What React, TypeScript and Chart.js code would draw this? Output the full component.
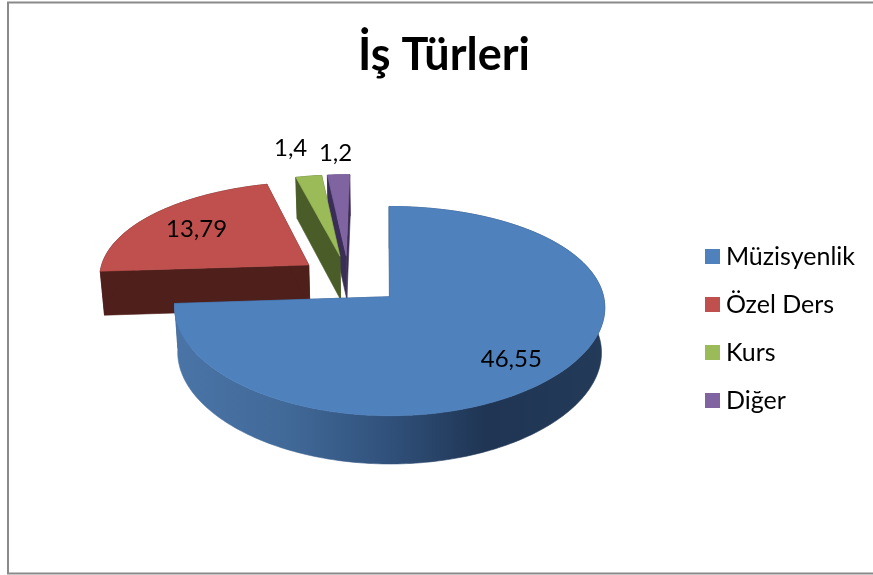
import React, { useEffect, useRef } from "react";
import { Chart, registerables } from "chart.js";

Chart.register(...registerables);

const TITLE = "İş Türleri";
const categories = ["Müzisyenlik", "Özel Ders", "Kurs", "Diğer"];
const values = [46.55, 13.79, 1.4, 1.2];
const topColors = ["#4f81bd", "#c0504d", "#9bbb59", "#8064a2"];
const sideColors = ["#2f4f78", "#4f1f1b", "#4a5c28", "#3a2d56"];
const blueRimStops: [number, string][] = [
  [0, "#4a74a6"],
  [0.25, "#416a99"],
  [0.5, "#30507a"],
  [0.72, "#1f3553"],
  [1, "#233a59"],
];

const FONT = "Lato";
const explosions = [56.5, 50, 50, 50];
const pieRadius = 210;

// Oblique perspective used to lay the flat pie on the "table"
const VIEW = { cx: 348.3, cy: 278.3, vx: 385, k: 0.465, q: 0.000638, qx: 0.00048 };
const labelFrac = [0.72, 0.72, 1, 1];
const labelShift = [
  [3, 8],
  [1, 2],
  [-18, -28],
  [-3, -21],
];

function project(dx: number, dy: number) {
  const s = 1 / (1 - VIEW.q * dy);
  const sx = 1 / (1 - VIEW.qx * dy);
  return {
    x: VIEW.vx + (VIEW.cx + dx - VIEW.vx) * sx,
    y: VIEW.cy + VIEW.k * dy * s,
    s,
  };
}

function lower(p: { x: number; y: number; s: number }) {
  return {
    x: VIEW.vx + (p.x - VIEW.vx) * 0.985,
    y: p.y + 22.7 + 21.5 * p.s,
    s: p.s,
  };
}

function poly(ctx: CanvasRenderingContext2D, pts: { x: number; y: number }[], fill: any) {
  ctx.beginPath();
  pts.forEach((p, i) => (i ? ctx.lineTo(p.x, p.y) : ctx.moveTo(p.x, p.y)));
  ctx.closePath();
  ctx.fillStyle = fill;
  ctx.fill();
  ctx.strokeStyle = fill;
  ctx.lineWidth = 0.6;
  ctx.stroke();
}

const framePlugin = {
  id: "frame",
  beforeDraw(chart: any) {
    const { ctx, width, height } = chart;
    ctx.save();
    ctx.fillStyle = "#ffffff";
    ctx.fillRect(0, 0, width, height);
    ctx.strokeStyle = "#8a8a8a";
    ctx.lineWidth = 2;
    ctx.beginPath();
    ctx.moveTo(width, 2.5);
    ctx.lineTo(8, 2.5);
    ctx.lineTo(8, 573.5);
    ctx.lineTo(width, 573.5);
    ctx.stroke();
    ctx.restore();
  },
};

const pie3dPlugin = {
  id: "pie3d",
  beforeDatasetsDraw(chart: any) {
    const { ctx } = chart;
    const arcs = chart.getDatasetMeta(0).data;
    const slices = arcs.map((el: any, i: number) => {
      const { startAngle, endAngle, outerRadius } = el.getProps(["startAngle", "endAngle", "outerRadius"]);
      const mid = (startAngle + endAngle) / 2;
      const off = el.options.offset || 0;
      return { i, startAngle, endAngle, outerRadius, mid, off, ox: Math.cos(mid) * off, oy: Math.sin(mid) * off };
    });
    const order = [...slices].sort((a: any, b: any) => Math.sin(a.mid) - Math.sin(b.mid));
    ctx.save();
    for (const sl of order) {
      const n = Math.max(6, Math.ceil((sl.endAngle - sl.startAngle) / 0.02));
      const rim: any[] = [];
      for (let j = 0; j <= n; j++) {
        const a = sl.startAngle + ((sl.endAngle - sl.startAngle) * j) / n;
        rim.push(project(sl.ox + Math.cos(a) * sl.outerRadius, sl.oy + Math.sin(a) * sl.outerRadius));
      }
      const apex = project(sl.ox, sl.oy);
      const apexLow = lower(apex);
      const rimLow = rim.map(lower);
      let rimFill: any = sideColors[sl.i];
      if (sl.i === 0) {
        const g = ctx.createLinearGradient(178, 0, 606, 0);
        blueRimStops.forEach(([o, c]) => g.addColorStop(o, c));
        rimFill = g;
      }
      poly(ctx, [apex, rim[0], rimLow[0], apexLow], sideColors[sl.i]);
      poly(ctx, [apex, rim[n], rimLow[n], apexLow], sideColors[sl.i]);
      poly(ctx, [...rim, ...[...rimLow].reverse()], rimFill);
      poly(ctx, [apex, ...rim], topColors[sl.i]);
    }
    ctx.restore();
    return false;
  },
  afterDraw(chart: any) {
    const { ctx } = chart;
    const arcs = chart.getDatasetMeta(0).data;
    ctx.save();
    ctx.font = `24px ${FONT}`;
    ctx.fillStyle = "#000000";
    ctx.textAlign = "center";
    ctx.textBaseline = "middle";
    arcs.forEach((el: any, i: number) => {
      const { startAngle, endAngle, outerRadius } = el.getProps(["startAngle", "endAngle", "outerRadius"]);
      const mid = (startAngle + endAngle) / 2;
      const t = (el.options.offset || 0) + outerRadius * labelFrac[i];
      const p = project(Math.cos(mid) * t, Math.sin(mid) * t);
      ctx.fillText(String(values[i]).replace(".", ","), p.x + labelShift[i][0], p.y + labelShift[i][1]);
    });
    ctx.restore();
  },
};

function swatch(color: string) {
  const c = document.createElement("canvas");
  c.width = 15;
  c.height = 15;
  const x = c.getContext("2d")!;
  x.fillStyle = color;
  x.fillRect(0, 0, 15, 15);
  return c;
}

export default function App() {
  const ref = useRef<HTMLCanvasElement>(null);
  useEffect(() => {
    document.body.style.margin = "0";
    const chart = new Chart(ref.current!, {
      type: "pie",
      data: {
        labels: categories,
        datasets: [
          {
            data: values,
            backgroundColor: topColors,
            borderWidth: 0,
            offset: explosions,
          },
        ],
      },
      options: {
        responsive: false,
        animation: false,
        radius: pieRadius,
        layout: { padding: { left: 23, right: 8, top: 0, bottom: 0 } },
        plugins: {
          tooltip: { enabled: false },
          title: {
            display: true,
            text: TITLE,
            color: "#000000",
            font: { family: FONT, size: 45, weight: "bold" },
            padding: { top: 28, bottom: 0 },
          },
          legend: {
            display: true,
            position: "right",
            fullSize: false,
            labels: {
              color: "#000000",
              font: { family: FONT, size: 25 },
              usePointStyle: true,
              boxHeight: 2,
              boxWidth: 2,
              padding: 23,
              generateLabels: () =>
                categories.map((text, i) => ({
                  text,
                  fillStyle: topColors[i],
                  strokeStyle: topColors[i],
                  lineWidth: 0,
                  pointStyle: swatch(topColors[i]),
                  hidden: false,
                  index: i,
                })),
            },
          },
        },
      } as any,
      plugins: [framePlugin, pie3dPlugin],
    });
    return () => chart.destroy();
  }, []);
  return <canvas ref={ref} width={873} height={575} style={{ display: "block", width: 873, height: 575 }} />;
}
